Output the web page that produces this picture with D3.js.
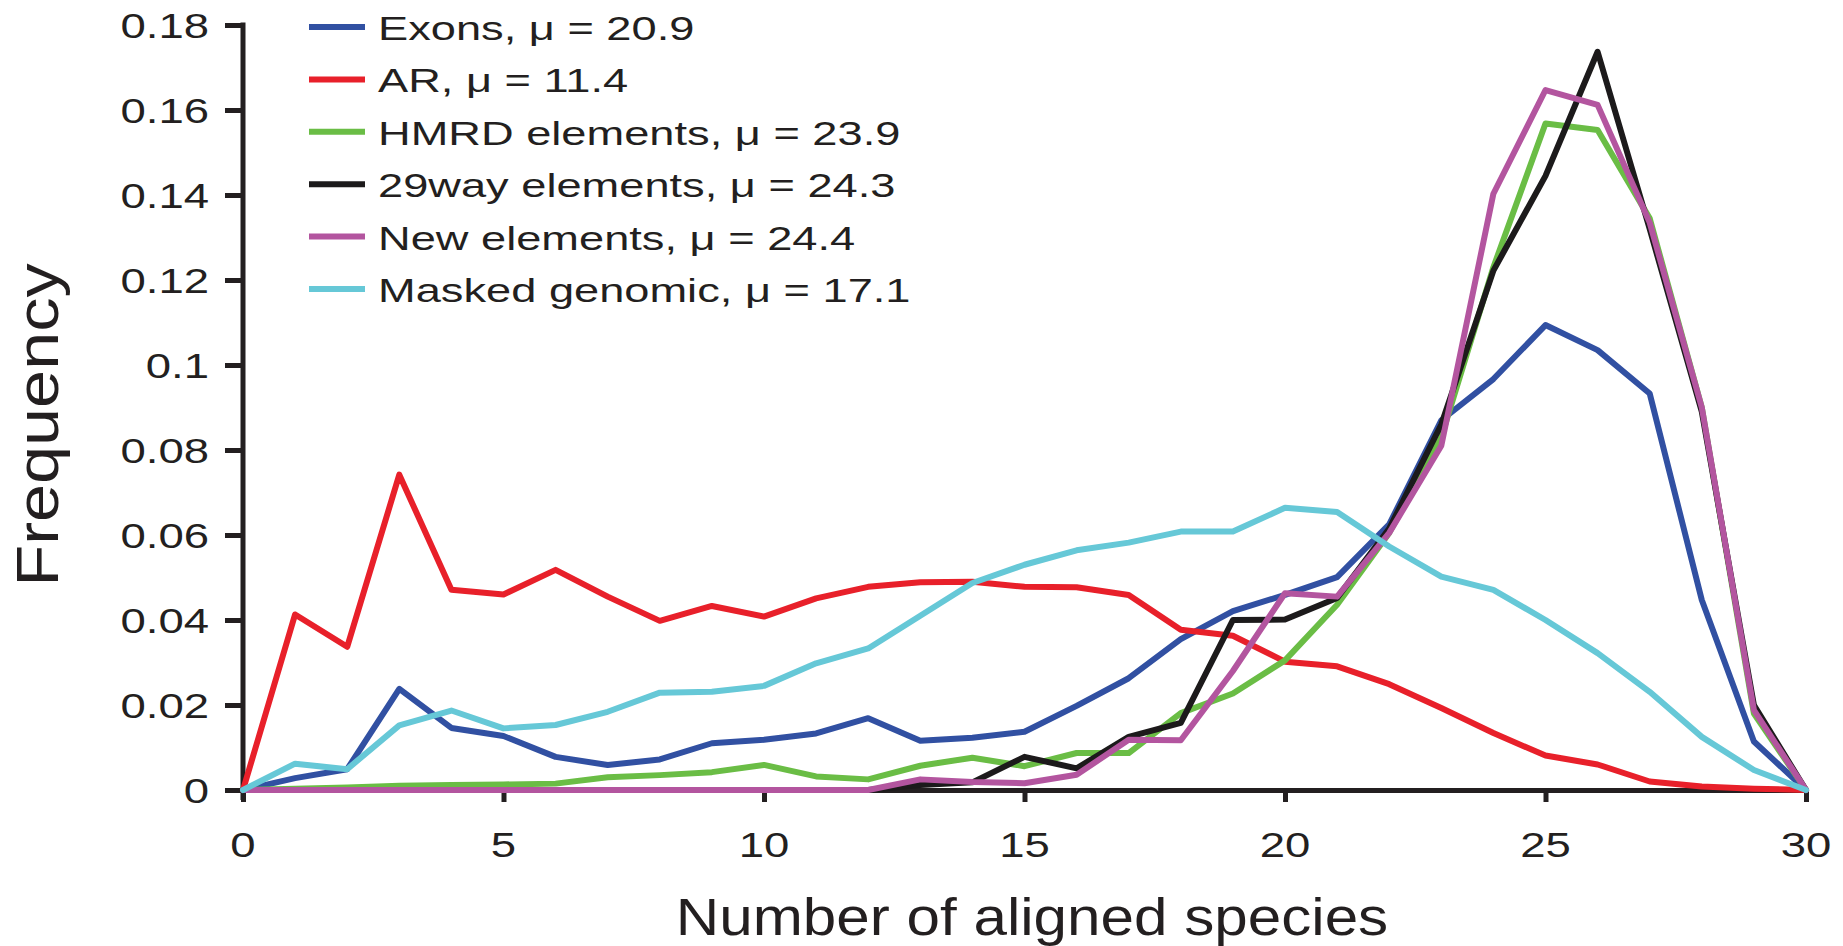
<!DOCTYPE html>
<html>
<head>
<meta charset="utf-8">
<script src="https://cdn.jsdelivr.net/npm/d3@7"></script>
<style>
  html, body { margin: 0; padding: 0; background: #ffffff; }
  svg { display: block; }
  text { font-family: "Liberation Sans", Arial, Helvetica, sans-serif; fill: #231f20; }
</style>
</head>
<body>
<svg id="chart" width="1843" height="946"></svg>
<script>
// ---------------- data ----------------
const species = [0,1,2,3,4,5,6,7,8,9,10,11,12,13,14,15,16,17,18,19,20,21,22,23,24,25,26,27,28,29,30];

const exons = [0,0.0028,0.0049,0.0238,0.0146,0.0127,0.0078,0.0059,0.0072,0.0110,0.0118,0.0133,0.0169,0.0116,0.0123,0.0137,0.0198,0.0263,0.0355,0.0421,0.0459,0.0501,0.0625,0.0870,0.0967,0.1094,0.1035,0.0933,0.0447,0.0114,0];
const ar = [0,0.0413,0.0337,0.0742,0.0471,0.0460,0.0518,0.0455,0.0398,0.0433,0.0408,0.0451,0.0478,0.0489,0.0490,0.0478,0.0477,0.0459,0.0377,0.0363,0.0302,0.0291,0.0249,0.0193,0.0134,0.0081,0.0060,0.0020,0.0008,0.0003,0];
const hmrd = [0,0.0003,0.0006,0.0010,0.0012,0.0013,0.0015,0.0030,0.0035,0.0042,0.0059,0.0032,0.0025,0.0057,0.0076,0.0056,0.0087,0.0087,0.0181,0.0227,0.0305,0.0436,0.0605,0.0830,0.1230,0.1568,0.1553,0.1345,0.0900,0.0180,0];
const way29 = [0,0,0,0,0,0,0,0,0,0,0,0,0,0.0012,0.0018,0.0078,0.0051,0.0125,0.0158,0.0400,0.0401,0.0452,0.0615,0.0860,0.1222,0.1445,0.1737,0.1320,0.0890,0.0200,0];
const newElements = [0,0,0,0,0,0,0,0,0,0,0,0,0,0.0025,0.0019,0.0016,0.0036,0.0118,0.0117,0.0280,0.0463,0.0455,0.0605,0.0810,0.1403,0.1647,0.1612,0.1335,0.0900,0.0188,0];
const masked = [0,0.0062,0.0049,0.0152,0.0187,0.0145,0.0153,0.0184,0.0229,0.0231,0.0245,0.0298,0.0333,0.0410,0.0487,0.0530,0.0564,0.0582,0.0608,0.0608,0.0664,0.0654,0.0573,0.0502,0.0471,0.0400,0.0322,0.0231,0.0125,0.0047,0];

const seriesNames = ["Exons, \u03bc = 20.9", "AR, \u03bc = 11.4", "HMRD elements, \u03bc = 23.9", "29way elements, \u03bc = 24.3", "New elements, \u03bc = 24.4", "Masked genomic, \u03bc = 17.1"];
const seriesColors = ["#3150a2", "#e8202a", "#6abd45", "#1c1a1b", "#b3559f", "#66c8d7"];
const seriesValues = [exons, ar, hmrd, way29, newElements, masked];
// draw order (bottom to top)
const drawOrder = [0, 1, 2, 3, 4, 5];

const xTicks = [0,5,10,15,20,25,30];
const xTickLabels = ["0","5","10","15","20","25","30"];
const yTicks = [0,0.02,0.04,0.06,0.08,0.1,0.12,0.14,0.16,0.18];
const yTickLabels = ["0","0.02","0.04","0.06","0.08","0.1","0.12","0.14","0.16","0.18"];

const xTitle = "Number of aligned species";
const yTitle = "Frequency";

// ---------------- chart ----------------
const svg = d3.select("#chart");
const ink = "#231f20";

const x = d3.scaleLinear().domain([0, 30]).range([243, 1806]);
const y = d3.scaleLinear().domain([0, 0.18]).range([790, 25]);

// axes
const yAxis = d3.axisLeft(y).tickValues(yTicks).tickSize(18).tickSizeOuter(0).tickFormat("");
const gy = svg.append("g").attr("transform", `translate(${x(0)},0)`).call(yAxis);
gy.select(".domain").attr("stroke", ink).attr("stroke-width", 5).attr("d", `M0,${y(0.18) - 2.5}V${y(0) + 10}`);
gy.selectAll(".tick line").attr("stroke", ink).attr("stroke-width", 5);

const xAxis = d3.axisBottom(x).tickValues(xTicks).tickSize(12).tickSizeOuter(0).tickFormat("");
const gx = svg.append("g").attr("transform", `translate(0,${y(0)})`).call(xAxis);
gx.select(".domain").attr("stroke", ink).attr("stroke-width", 5);
gx.selectAll(".tick line").attr("stroke", ink).attr("stroke-width", 5);

// tick labels
svg.append("g").selectAll("text").data(yTicks).join("text")
  .attr("transform", d => `translate(209,${y(d) + 12.5}) scale(1.3,1)`)
  .attr("text-anchor", "end")
  .style("font-size", "35px")
  .text((d, i) => yTickLabels[i]);

svg.append("g").selectAll("text").data(xTicks).join("text")
  .attr("transform", d => `translate(${x(d)},857) scale(1.3,1)`)
  .attr("text-anchor", "middle")
  .style("font-size", "35px")
  .text((d, i) => xTickLabels[i]);

// axis titles
svg.append("text")
  .attr("transform", "translate(1032,935) scale(1.18,1)")
  .attr("text-anchor", "middle")
  .style("font-size", "51px")
  .text(xTitle);

svg.append("text")
  .attr("transform", "translate(58,425) rotate(-90) scale(1.16,1)")
  .attr("text-anchor", "middle")
  .style("font-size", "59px")
  .text(yTitle);

// lines
const line = d3.line()
  .x((d, i) => x(species[i]))
  .y(d => y(d))
  .curve(d3.curveLinear);

const gLines = svg.append("g");
drawOrder.forEach(k => {
  gLines.append("path")
    .datum(seriesValues[k])
    .attr("fill", "none")
    .attr("stroke", seriesColors[k])
    .attr("stroke-width", 6)
    .attr("stroke-linejoin", "round")
    .attr("stroke-linecap", "round")
    .attr("d", line);
});

// legend
const legend = svg.append("g");
seriesNames.forEach((name, k) => {
  const ly = 27 + 52.4 * k;
  legend.append("line")
    .attr("x1", 309).attr("x2", 365)
    .attr("y1", ly).attr("y2", ly)
    .attr("stroke", seriesColors[k])
    .attr("stroke-width", 6);
  legend.append("text")
    .attr("transform", `translate(378,${ly + 13}) scale(1.33,1)`)
    .style("font-size", "34px")
    .text(name);
});
</script>
</body>
</html>
